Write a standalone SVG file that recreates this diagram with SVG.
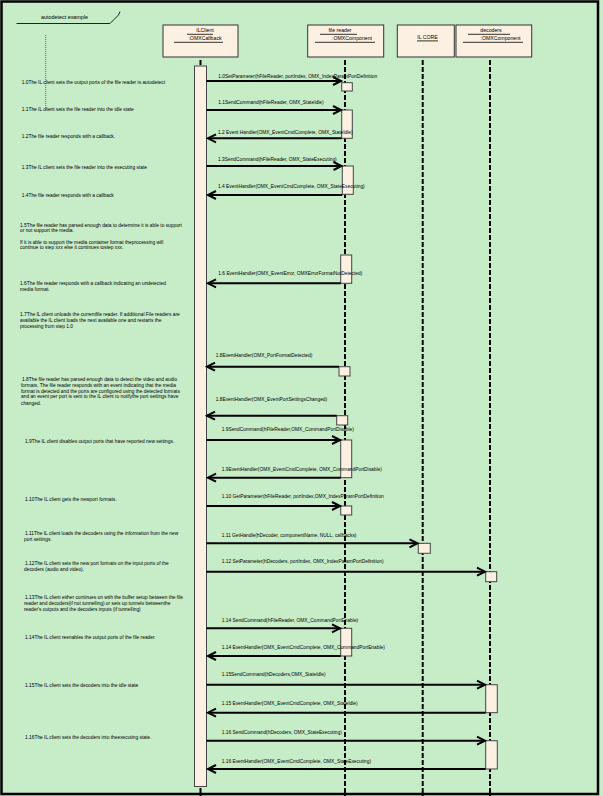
<svg xmlns="http://www.w3.org/2000/svg" width="603" height="796" viewBox="0 0 603 796">
<defs>
<style>
.t{font-family:"Liberation Sans",Arial,sans-serif;font-size:4.85px;fill:#000}
.h{font-family:"Liberation Sans",Arial,sans-serif;font-size:5.2px;fill:#000;text-anchor:middle}
.box{fill:#fbf0e2;stroke:#333;stroke-width:1}
.act{fill:#fbf0e2;stroke:#444;stroke-width:1}
.ll{stroke:#000;stroke-width:2;stroke-dasharray:5 2;fill:none}
.ul{stroke:#000;stroke-width:0.8}
.msg{stroke:#000;stroke-width:2;fill:none;marker-end:url(#ah)}
</style>
<marker id="ah" markerUnits="userSpaceOnUse" markerWidth="10" markerHeight="10" refX="8" refY="4" orient="auto" overflow="visible">
<path d="M0,0 L8,4 L0,8" fill="none" stroke="#000" stroke-width="2"/>
</marker>
</defs>
<rect x="0" y="0" width="603" height="796" fill="#c6ecc8"/>
<rect x="1.5" y="1.5" width="596.5" height="792.5" fill="none" stroke="#000" stroke-width="2.5"/>

<g id="frame-title">
<text class="t" x="41" y="19" style="font-size:5.4px">autodetect  example</text>
<polyline points="16.5,23.5 110,23.5 118.5,15 120,11.5" fill="none" stroke="#222" stroke-width="1"/>
<line x1="45.7" y1="35" x2="45.7" y2="110" stroke="#666" stroke-width="1" stroke-dasharray="1 1"/>
</g>

<g id="ilclient">
<line class="ll" x1="200.5" y1="60" x2="200.5" y2="796"/>
<rect class="box" x="163" y="25" width="75" height="32"/>
<text class="h" x="205" y="31.8">ILClient</text>
<line class="ul" x1="187" y1="34.3" x2="213" y2="34.3"/>
<text class="h" x="205" y="40">:OMXCallback</text>
<line class="ul" x1="174" y1="42.3" x2="223" y2="42.3"/>
<rect class="act" x="194.5" y="66" width="12" height="720.5"/>
</g>

<g id="filereader">
<line class="ll" x1="345" y1="60" x2="345" y2="796"/>
<rect class="box" x="307.7" y="25" width="76" height="32"/>
<text class="h" x="340" y="31.8">file reader</text>
<line class="ul" x1="320" y1="34.3" x2="357" y2="34.3"/>
<text class="h" x="352" y="40">:OMXComponent</text>
<line class="ul" x1="315" y1="42.3" x2="375" y2="42.3"/>
<rect class="act" x="341.7" y="82.7" width="10.6" height="8.3"/>
<rect class="act" x="341.7" y="110" width="10.6" height="28.3"/>
<rect class="act" x="342.3" y="166" width="11" height="28.3"/>
<rect class="act" x="340.7" y="255" width="11" height="28.3"/>
<rect class="act" x="339" y="366.7" width="11" height="9.3"/>
<rect class="act" x="336.7" y="415.7" width="11" height="9.3"/>
<rect class="act" x="340.7" y="440" width="11" height="37.7"/>
<rect class="act" x="340.7" y="506" width="11" height="9"/>
<rect class="act" x="340.7" y="628.3" width="11" height="27.7"/>
</g>

<g id="ilcore">
<line class="ll" x1="422.7" y1="60" x2="422.7" y2="796"/>
<rect class="box" x="397.3" y="25" width="57" height="32"/>
<text class="h" x="427.5" y="39.3">IL CORE</text>
<line class="ul" x1="417" y1="40.9" x2="438" y2="40.9"/>
<rect class="act" x="418.3" y="543.3" width="12" height="10"/>
</g>

<g id="decoders">
<line class="ll" x1="490" y1="60" x2="490" y2="796"/>
<rect class="box" x="456" y="25" width="75.7" height="32"/>
<text class="h" x="491" y="31.8">decoders</text>
<line class="ul" x1="468" y1="34.3" x2="510" y2="34.3"/>
<text class="h" x="500.5" y="40">:OMXComponent</text>
<line class="ul" x1="463" y1="42.3" x2="523" y2="42.3"/>
<rect class="act" x="485.7" y="571.7" width="11" height="10"/>
<rect class="act" x="485.7" y="684.7" width="11.6" height="28"/>
<rect class="act" x="485.7" y="740.7" width="11.6" height="28.3"/>
</g>

<g id="connectors">
<line class="msg" x1="206.5" y1="81" x2="341" y2="81"/>
<line class="msg" x1="206.5" y1="110" x2="341" y2="110"/>
<line class="msg" x1="341.7" y1="138.3" x2="208" y2="138.3"/>
<line class="msg" x1="206.5" y1="166" x2="341.5" y2="166"/>
<line class="msg" x1="342.3" y1="195" x2="208" y2="195"/>
<line class="msg" x1="340.7" y1="283.3" x2="208" y2="283.3"/>
<line class="msg" x1="339" y1="366.7" x2="207" y2="366.7"/>
<line class="msg" x1="336.7" y1="415.7" x2="207" y2="415.7"/>
<line class="msg" x1="206.5" y1="440" x2="340" y2="440"/>
<line class="msg" x1="340.7" y1="477.7" x2="208" y2="477.7"/>
<line class="msg" x1="206.5" y1="506" x2="340" y2="506"/>
<line class="msg" x1="206.5" y1="543.3" x2="417.5" y2="543.3"/>
<line class="msg" x1="206.5" y1="571.7" x2="485" y2="571.7"/>
<line class="msg" x1="206.5" y1="628.3" x2="340" y2="628.3"/>
<line class="msg" x1="340.7" y1="656" x2="208" y2="656"/>
<line class="msg" x1="206.5" y1="684.7" x2="485" y2="684.7"/>
<line class="msg" x1="485.7" y1="712.7" x2="208" y2="712.7"/>
<line class="msg" x1="206.5" y1="740.7" x2="485" y2="740.7"/>
<line class="msg" x1="485.7" y1="769" x2="208" y2="769"/>
</g>

<g id="message-labels">
<text class="t" x="218.3" y="77.7">1.0SetParameter(hFileReader, portIndex, OMX_IndexParamPortDefinition</text>
<text class="t" x="218.3" y="104.4">1.1SendCommand(hFileReader, OMX_StateIdle)</text>
<text class="t" x="218" y="133.7">1.2 Event Handler(OMX_EventCmdComplete, OMX_StateIdle)</text>
<text class="t" x="218" y="160.7">1.3SendCommand(hFileReader, OMX_StateExecuting)</text>
<text class="t" x="218" y="187.7">1.4 EventHandler(OMX_EventCmdComplete, OMX_StateExecuting)</text>
<text class="t" x="218.3" y="275">1.6 EventHandler(OMX_EventError, OMXErrorFormatNotDetected)</text>
<text class="t" x="215.7" y="356.7">1.8EventHandler(OMX_PortFormatDetected)</text>
<text class="t" x="215.7" y="400.7">1.8EventHandler(OMX_EventPortSettingsChanged)</text>
<text class="t" x="221.7" y="431">1.9SendCommand(hFileReader,OMX_CommandPortDisable)</text>
<text class="t" x="221.7" y="470.7">1.9EventHandler(OMX_EventCmdComplete, OMX_CommandPortDisable)</text>
<text class="t" x="221.7" y="497.7">1.10 GetParameter(hFileReader, portIndex,OMX_IndexParamPortDefinition</text>
<text class="t" x="221.7" y="536.7">1.11 GetHandle(hDecoder, componentName, NULL, callbacks)</text>
<text class="t" x="221.7" y="562.7">1.12 SetParameter(hDecoders, portIndex, OMX_IndexParamPortDefinition)</text>
<text class="t" x="221.7" y="622.4">1.14 SendCommand(hFileReader, OMX_CommandPortEnable)</text>
<text class="t" x="221.7" y="648.7">1.14 EventHandler(OMX_EventCmdComplete, OMX_CommandPortEnable)</text>
<text class="t" x="221.7" y="675.7">1.15SendCommand(hDecoders,OMX_StateIdle)</text>
<text class="t" x="221.7" y="705">1.15 EventHandler(OMX_EventCmdComplete, OMX_StateIdle)</text>
<text class="t" x="221.7" y="734.4">1.16 SendCommand(hDecoders, OMX_StateExecuting)</text>
<text class="t" x="221.7" y="763.4">1.16 EventHandler(OMX_EventCmdComplete, OMX_StateExecuting)</text>
</g>

<g id="notes">
<text class="t" x="21.7" y="84.4">1.0The IL client sets the output ports of the file reader is autodetect</text>
<text class="t" x="21.7" y="110.7">1.1The IL client sets the file reader into the idle state</text>
<text class="t" x="21.7" y="137.7">1.2The file reader responds with a callback.</text>
<text class="t" x="21.7" y="169">1.3The IL client sets the file reader into the executing state</text>
<text class="t" x="21.7" y="197">1.4The file reader responds with a callback</text>
<text class="t" x="20" y="227">1.5The file reader has parsed enough data to determine it is able to support</text>
<text class="t" x="20" y="232.4">or not support the media.</text>
<text class="t" x="20" y="244">If it is able to support the media container format theprocessing will</text>
<text class="t" x="20" y="249.4">continue to step xxx else it continues tostep xxx.</text>
<text class="t" x="20" y="285">1.6The file reader responds with a callback indicating an undetected</text>
<text class="t" x="20" y="290.7">media format.</text>
<text class="t" x="20" y="316.4">1.7The IL client unloads the currentfile reader.  If additional File readers are</text>
<text class="t" x="20" y="322.4">available the IL client loads the next available one and restarts the</text>
<text class="t" x="20" y="328.4">processing from step 1.0</text>
<text class="t" x="22" y="381">1.8The file reader has parsed enough data to detect the video and audio</text>
<text class="t" x="21" y="386.7">formats. The file reader responds with an event indicating that the media</text>
<text class="t" x="21" y="392.7">format is detected and the ports are configured using the detected formats</text>
<text class="t" x="21" y="398.4">and an event per port is sent to the IL client to notifythe port settings have</text>
<text class="t" x="21" y="405">changed.</text>
<text class="t" x="25" y="443">1.9The IL client disables output ports that have reported new settings.</text>
<text class="t" x="25" y="500.7">1.10The IL client gets the newport formats.</text>
<text class="t" x="25" y="535">1.11The IL client loads the decoders using the information from the new</text>
<text class="t" x="24" y="541">port settings.</text>
<text class="t" x="25" y="565">1.12The IL client sets the new port formats on the input ports of the</text>
<text class="t" x="24" y="571">decoders (audio and video).</text>
<text class="t" x="25" y="599">1.13The IL client either continues on with the buffer setup between the file</text>
<text class="t" x="24" y="605">reader and decoders(if not tunnelling) or sets up tunnels betweenthe</text>
<text class="t" x="24" y="611">reader's outputs and the decoders inputs (if tunnelling)</text>
<text class="t" x="25" y="638.7">1.14The IL client reenables the output ports of the file reader.</text>
<text class="t" x="25" y="686.7">1.15The IL client sets the decoders into the idle state</text>
<text class="t" x="25" y="739">1.16The IL client sets the decoders into theexecuting state.</text>
</g>
</svg>
